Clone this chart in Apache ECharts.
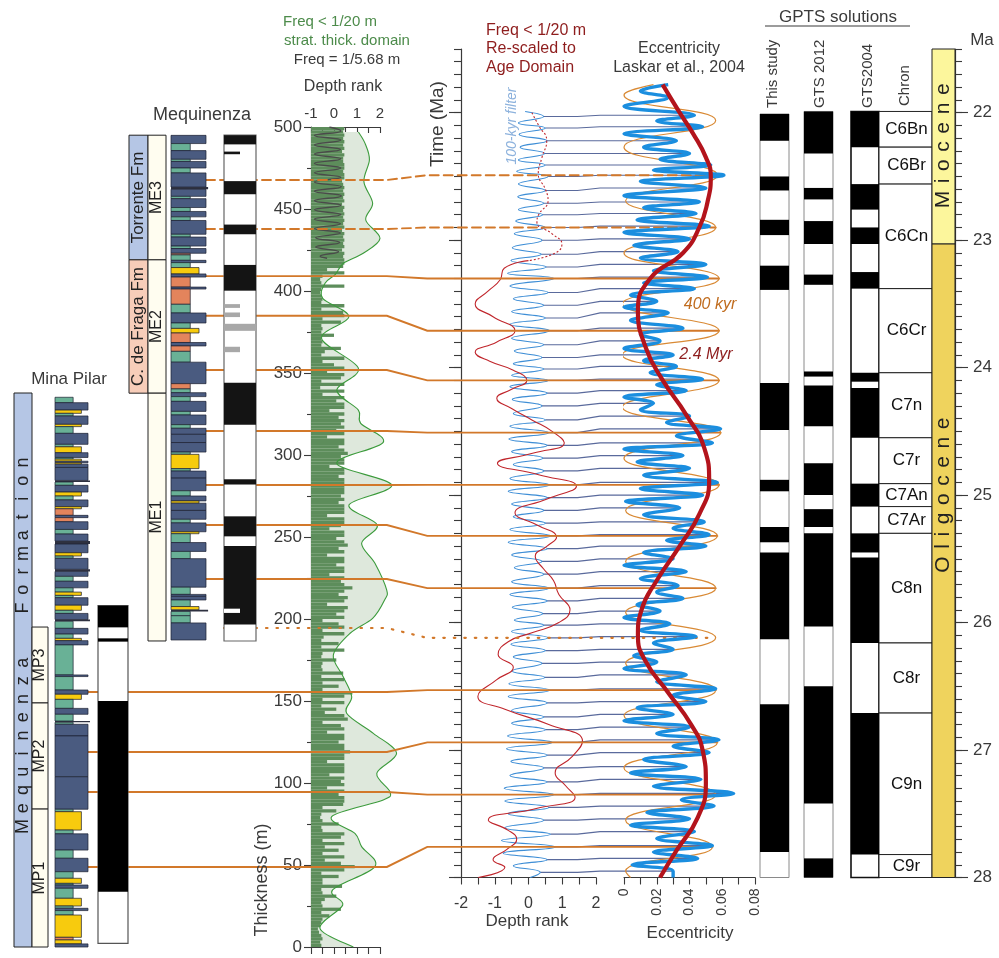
<!DOCTYPE html>
<html>
<head>
<meta charset="utf-8">
<script src="https://cdn.jsdelivr.net/npm/echarts@6/dist/echarts.min.js"></script>
<style>
  html, body { margin: 0; padding: 0; background: #fff; }
  #chart { width: 999px; height: 958px; }
</style>
</head>
<body>
<div id="chart"></div>
<script>
// ---------------- Mina Pilar section (thickness in m) ----------------
// lithology: [top, bottom, type]  type 0 limestone, 1 mudstone, 2 sandstone, 3 red mudstone, 4 dark lamina
const mpLithology = [
  [335.2,331.9,1],[331.9,327.4,0],[327.4,325.4,2],[325.4,323.8,1],[323.8,318.7,0],[318.7,317.3,2],[317.3,313.2,1],
  [313.2,306.5,0],[306.5,305,1],[305,301.4,2],[301.4,298.5,0],[298.5,297.5,1],[297.5,296.2,2],[296.2,295.3,0],
  [295.3,294.4,2],[294.4,292.4,0],[292.4,284.5,0],[284.5,283.5,4],[283.5,281.5,1],[281.5,277.4,0],[277.4,275,2],
  [275,272.6,1],[272.6,268.5,0],[268.5,267.2,2],[267.2,263.2,3],[263.2,261.8,0],[261.8,259.3,3],[259.3,254.6,0],
  [254.6,251.8,1],[251.8,247.5,0],[247.5,245.7,4],[245.7,240.4,0],[240.4,238.4,2],[238.4,237,1],[237,230.3,0],
  [230.3,229,4],[229,226,0],[226,223,1],[223,219,0],[219,216.4,1],[216.4,214.4,2],[214.4,213,1],[213,208.4,0],
  [208.4,205.3,2],[205.3,203.4,1],[203.4,199.7,0],[199.7,198.6,4],[198.6,194.3,1],[194.3,190.8,0],[190.8,188.2,1],
  [188.2,186.8,2],[186.8,184.2,0],[184.2,165.9,1],[165.9,164.9,0],[164.9,156.7,1],[156.7,154.1,0],[154.1,151,2],
  [151,145.5,1],[145.5,141.9,0],[141.9,137.8,1],[137.8,137.0,4],[137,135.8,1],[135.8,128.7,0],[128.7,103.8,0],
  [103.8,84,0],[84,82.5,1],[82.5,71.3,2],[71.3,69,1],[69,59.1,0],[59.1,54.1,1],[54.1,45.9,0],[45.9,41.9,1],
  [41.9,38.8,2],[38.8,37.8,1],[37.8,35.8,0],[35.8,29.7,1],[29.7,25,2],[25,23.6,1],[23.6,22.2,0],[22.2,19.5,1],
  [19.5,5.9,2],[5.9,4.3,3],[4.3,1.9,2],[1.9,0,0]
];
const mpPolaritySpan = [[208.1, 2.2]];
const mpPolarityNormal = [[208.1,194.9],[188.2,186.2],[150,33.7]];
const mpUnits = [[195.1,148.8],[148.8,84.1],[84.1,0]];
const mpUnitNames = ['MP3','MP2','MP1'];
const mpFormation = [[337.8, 0]];
const mpFormationNames = ['Mequinenza  Formation'];

// ---------------- Mequinenza section ----------------
const meqLithology = [
  [494.9,489.9,0],[489.9,485.6,1],[485.6,480.3,0],[480.3,479,1],[479,475,0],[475,472,1],[472,463.4,0],[463.4,462,4],
  [462,457.7,0],[457.7,456.3,1],[456.3,450.9,0],[450.9,448.5,1],[448.5,445.2,0],[445.2,443,1],[443,434.6,0],
  [434.6,432.9,1],[432.9,427.4,0],[427.4,425.9,1],[425.9,423,0],[423,422,3],[422,418.7,1],[418.7,417.3,0],
  [417.3,414.3,1],[414.3,410.4,2],[410.4,408.5,0],[408.5,402.4,3],[402.4,401.2,0],[401.2,391.9,3],[391.9,386.6,1],
  [386.6,380.5,0],[380.5,377.2,1],[377.2,374.4,2],[374.4,368.6,3],[368.6,366.5,0],[366.5,363.2,3],[363.2,356.6,1],
  [356.6,343.5,0],[343.5,340.3,3],[340.3,338,1],[338,335.6,0],[335.6,332.7,1],[332.7,326.6,0],[326.6,324.4,1],
  [324.4,318.5,0],[318.5,316.3,1],[316.3,312.6,0],[312.6,307.6,0],[307.6,301.8,0],[301.8,300.4,1],[300.4,291.7,2],
  [291.7,290.2,1],[290.2,285.9,0],[285.9,278.2,0],[278.2,275,1],[275,272,0],[272,270.6,2],[270.6,266.2,0],
  [266.2,260.8,0],[260.8,258.6,1],[258.6,253.2,0],[253.2,252,2],[252,246.6,1],[246.6,241.2,0],[241.2,236.8,1],
  [236.8,219.4,0],[219.4,215,1],[215,213.8,0],[213.8,211.6,0],[211.6,207.6,1],[207.6,205.6,2],[205.6,204.6,4],
  [204.6,202,1],[202,197.6,1],[197.6,187.2,0]
];
const meqPolaritySpan = [[495, 186.6]];
const meqPolarityNormal = [[495,489.4],[467,459],[440.5,434.6],[415.9,400.2],[344,318.5],[285.2,282],[262.6,250.4],[244.5,196.6]];
const meqPolarityNormalThin = [[485,483.4]];
const meqPolarityUncertain = [[380,375.7]];
const meqPolarityUncertainThin = [[392,389.7],[386.9,384.1],[366,362.7]];
const meqPolarityGapThin = [[206.3,203.7]];
const meqFormations = [[495,419],[419,337.7]];
const meqFormationNames = ['Torrente Fm','C. de Fraga Fm'];
const meqUnits = [[495,419],[419,337.7],[337.7,186.6]];
const meqUnitNames = ['ME3','ME2','ME1'];

// ---------------- Depth rank in the thickness domain ----------------
// raw depth rank, one value per 2 m bin starting at 0 m
const rankRawStart = 0, rankRawStep = 2;
const rankRaw = [
  -0.55,-0.6,-0.5,-0.55,-0.65,  -0.7,-0.6,-0.55,-0.5,-0.2,  -0.55,0.3,-0.5,-0.55,-0.4,  0.1,-0.5,-0.55,0.35,-0.5,
  -0.5,0.2,-0.55,0.45,0.9,  0.3,-0.4,0.45,-0.5,0.2,  -0.4,0.45,-0.5,0.3,0.45,  -0.5,-0.55,0.2,-0.5,-0.6,
  -0.55,0.1,-0.5,0.4,0.45,  0.45,0.2,0.45,-0.3,0.45,  0.3,0.45,-0.2,0.45,0.45,  0.45,-0.3,0.45,0.45,0.7,
  0.45,0.45,0.2,0.45,0.45,  -0.3,0.45,0.3,-0.5,0.6,  0.45,-0.4,0.1,-0.55,0.45,  -0.5,0.45,0.8,-0.5,0.2,
  -0.5,0.45,-0.55,0.4,-0.5,  -0.55,-0.5,0.1,-0.55,-0.5,  0.45,-0.55,0.2,-0.55,-0.45,  0.45,-0.5,0.45,0.2,-0.5,
  0.45,0.1,0.45,0.6,-0.3,  0.45,0.6,0.2,0.45,0.8,  0.45,0.3,0.45,-0.2,0.45,  0.45,0.1,0.45,0.45,-0.3,
  0.45,0.2,0.6,0.45,0.1,  0.45,0.45,-0.2,0.3,0.45,  0.45,-0.3,0.45,0.45,0.45,  0.2,0.45,0.3,0.45,0.45,
  0.45,0.45,0.45,0.2,0.45,  0.45,-0.2,0.45,0.45,0.3,  0.6,0.45,0.2,0.45,0.45,  -0.3,0.45,0.1,0.45,0.3,
  0.45,0.2,0.45,-0.2,0.45,  0.45,0.1,0.45,-0.5,0.45,  -0.6,0.45,-0.55,0.3,0.45,  -0.3,0.45,0.0,-0.5,0.45,
  -0.55,-0.4,0.3,-0.55,-0.5,  -0.55,0.0,-0.55,-0.5,-0.55,  0.3,-0.5,0.45,0.4,-0.55,  0.45,-0.55,-0.5,-0.55,-0.6,
  -0.55,0.45,-0.55,-0.6,-0.5,  0.45,-0.3,0.4,0.45,0.45,  0.4,0.45,0.35,0.45,0.4,  0.45,0.4,0.45,0.35,0.45,
  0.4,0.45,0.4,0.45,0.4,  0.45,0.35,0.45,0.4,0.45,  0.4,0.45,0.4,0.35,0.45,  0.45,0.4,0.45,0.45,0.4,
  0.4,0.45,0.35,0.45,0.4,  0.45,0.4,0.45,0.4,0.45
];
// low-pass (< 1/20 m) filtered depth rank: [thickness m, rank]
const strat20m = [
  [497,1.06],[490,1.35],[480,1.54],[466.7,1.30],[453.5,1.68],[443.3,1.38],[432.1,2.00],[423,1.27],[416.9,0.41],
  [410,0.05],[404.7,-0.39],[395.5,-0.49],[384.3,0.65],[371.1,-0.54],[352.9,1.06],[339.6,0.12],[327.4,1.06],
  [319.3,1.16],[307.7,2.14],[294.9,0.12],[281.7,2.51],[269.5,0.65],[257.3,1.88],[246.2,1.20],[234,1.78],
  [217.7,2.29],[211.6,2.20],[200.4,1.68],[191.3,0.70],[178,-0.03],[164.8,0.40],[152.6,0.77],[142.5,0.55],
  [130.3,1.71],[118.1,2.72],[105.9,1.86],[94.7,2.43],[89.6,2.14],[79.5,-0.10],[69.3,0.91],[61.2,1.20],
  [49,1.78],[34.8,-0.06],[25.6,0.38],[11.4,-0.61],[0,0.84]
];
// 5.68 m cycle: [thickness m, rank]
const cycle568 = [
  [500,-0.2],[497.6,0.3],[494.8,-0.85],[492.0,0.3],[489.1,-0.85],[486.3,0.28],[483.5,-0.85],[480.6,0.3],
  [477.8,-0.85],[475.0,0.3],[472.1,-0.85],[469.3,0.3],[466.5,-0.85],[463.6,0.32],[460.8,-0.85],[458.0,0.32],
  [455.1,-0.85],[452.3,0.3],[449.5,-0.85],[446.6,0.3],[443.8,-0.85],[441.0,0.28],[438.1,-0.85],[435.3,0.28],
  [432.5,-0.8],[429.6,0.25],[426.8,-0.8],[424.0,0.2],[421.2,-0.6],[420.0,-0.3]
];

// ---------------- Age domain ----------------
// 100-kyr filter of the depth rank: peaks and troughs [Ma, rank]
const filterPeaks = [
  [22.03,0.45],[22.12,0.50],[22.22,0.55],[22.32,0.48],[22.41,0.50],[22.50,0.58],[22.61,0.50],[22.71,0.45],[22.80,0.42],[22.90,0.50],
  [23.00,0.40],[23.11,0.38],[23.21,0.52],[23.30,0.75],[23.41,0.58],[23.51,0.45],[23.61,0.50],[23.71,0.62],[23.82,0.45],[23.92,0.40],
  [24.01,0.45],[24.10,0.58],[24.20,0.55],[24.30,0.40],[24.41,0.50],[24.51,0.60],[24.61,0.55],[24.71,0.42],[24.81,0.45],[24.92,0.62],
  [25.02,0.55],[25.12,0.45],[25.22,0.50],[25.32,0.65],[25.42,0.55],[25.52,0.40],[25.62,0.45],[25.73,0.60],[25.83,0.55],[25.93,0.42],
  [26.02,0.45],[26.12,0.58],[26.22,0.50],[26.32,0.40],[26.43,0.48],[26.53,0.62],[26.63,0.55],[26.74,0.45],[26.84,0.50],[26.94,0.70],
  [27.04,0.55],[27.14,0.45],[27.25,0.55],[27.35,0.75],[27.45,0.60],[27.55,0.45],[27.66,0.65],[27.76,0.80],[27.86,0.55],[27.96,0.35]
];
const filterTroughs = [
  [21.99,-0.10],[22.08,-0.30],[22.17,-0.28],[22.27,-0.25],[22.37,-0.30],[22.46,-0.35],[22.56,-0.30],[22.66,-0.32],[22.76,-0.30],[22.85,-0.38],
  [22.95,-0.42],[23.06,-0.48],[23.16,-0.52],[23.26,-0.62],[23.36,-0.55],[23.46,-0.45],[23.56,-0.50],[23.66,-0.55],[23.77,-0.50],[23.87,-0.42],
  [23.97,-0.45],[24.06,-0.50],[24.15,-0.55],[24.25,-0.48],[24.36,-0.45],[24.46,-0.55],[24.56,-0.58],[24.66,-0.50],[24.76,-0.45],[24.87,-0.55],
  [24.97,-0.60],[25.07,-0.50],[25.17,-0.45],[25.27,-0.55],[25.37,-0.60],[25.47,-0.50],[25.57,-0.42],[25.68,-0.50],[25.78,-0.55],[25.88,-0.48],
  [25.98,-0.42],[26.07,-0.50],[26.17,-0.52],[26.27,-0.45],[26.38,-0.48],[26.48,-0.58],[26.58,-0.60],[26.69,-0.50],[26.79,-0.50],[26.89,-0.62],
  [26.99,-0.65],[27.09,-0.52],[27.20,-0.55],[27.30,-0.72],[27.40,-0.70],[27.50,-0.60],[27.61,-0.70],[27.71,-0.80],[27.81,-0.75],[27.91,-0.45],[28.00,0.05]
];
// < 1/20 m filter re-scaled to age: [Ma, rank]; dashed above 23.16 Ma
const redFilterAge = [
  [22.00,0.10],[22.10,0.30],[22.22,0.54],[22.35,0.40],[22.48,0.29],[22.60,0.50],[22.69,0.58],[22.80,0.30],[22.86,0.25],[22.95,0.70],
  [23.03,0.99],[23.10,0.80],[23.16,0.00],[23.22,-0.72],[23.31,-0.84],[23.40,-1.20],[23.50,-1.58],[23.60,-1.05],[23.71,-0.40],[23.80,-0.95],
  [23.88,-1.58],[23.95,-1.15],[24.02,-0.45],[24.10,-0.05],[24.17,-0.50],[24.24,-0.94],[24.32,-0.50],[24.41,0.10],[24.50,0.70],[24.59,1.06],
  [24.67,0.15],[24.75,-0.92],[24.84,0.30],[24.93,1.42],[25.03,0.55],[25.14,-0.40],[25.24,0.30],[25.33,0.83],[25.40,0.55],[25.48,0.20],
  [25.58,0.45],[25.67,0.74],[25.78,0.90],[25.90,1.23],[26.00,0.90],[26.08,0.10],[26.15,-0.60],[26.25,-0.90],[26.35,-0.45],[26.45,-0.95],
  [26.58,-1.50],[26.68,-0.70],[26.80,0.60],[26.93,1.60],[27.05,1.30],[27.18,0.79],[27.28,1.10],[27.37,1.38],[27.46,0.20],[27.55,-1.19],
  [27.63,-0.60],[27.70,-0.35],[27.78,-0.64],[27.86,-1.05],[27.92,-0.70],[28.00,-1.49]
];
const redDashedUntil = 23.16;

// Laskar et al. (2004) eccentricity: peaks tied to the 100-kyr filter, plus the other extremes [Ma, ecc]
const eccPeaks = [
  [22.02,.043],[22.11,.048],[22.22,.032],[22.32,.040],[22.41,.053],[22.49,.061],[22.59,.050],[22.70,.046],[22.79,.044],[22.89,.052],
  [22.99,.040],[23.09,.033],[23.19,.050],[23.29,.051],[23.38,.043],[23.48,.020],[23.57,.027],[23.69,.036],[23.79,.022],[23.90,.030],
  [23.99,.032],[24.09,.048],[24.18,.038],[24.28,.018],[24.38,.040],[24.48,.059],[24.59,.054],[24.69,.036],[24.79,.040],[24.90,.057],
  [25.00,.048],[25.10,.034],[25.21,.049],[25.31,.052],[25.40,.050],[25.50,.030],[25.60,.038],[25.71,.033],[25.81,.036],[25.91,.022],
  [26.01,.028],[26.11,.044],[26.21,.030],[26.31,.020],[26.41,.038],[26.52,.056],[26.62,.050],[26.72,.030],[26.82,.040],[26.92,.058],
  [27.02,.052],[27.13,.038],[27.23,.047],[27.34,.067],[27.44,.055],[27.54,.040],[27.64,.043],[27.75,.054],[27.85,.045],[27.95,.030]
];
const eccOther = [
  [21.78,.027],[21.83,.010],[21.88,.027],[21.95,.000],
  [22.065,.020],[22.165,.000],[22.27,.012],[22.365,.022],[22.45,.018],[22.54,.010],[22.65,.000],[22.745,.012],[22.84,.008],[22.94,.000],
  [23.04,.006],[23.14,.010],[23.24,.018],[23.335,.012],[23.43,.004],[23.525,.000],[23.63,.004],[23.74,.010],[23.85,.000],[23.945,.012],
  [24.04,.016],[24.135,.020],[24.23,.000],[24.33,.010],[24.43,.026],[24.535,.032],[24.64,.000],[24.74,.008],[24.845,.012],[24.95,.010],
  [25.05,.001],[25.155,.012],[25.26,.030],[25.355,.026],[25.45,.012],[25.55,.000],[25.655,.010],[25.76,.020],[25.86,.008],[25.96,.000],
  [26.06,.010],[26.16,.018],[26.26,.006],[26.36,.000],[26.465,.020],[26.57,.030],[26.67,.008],[26.77,.000],[26.87,.020],[26.97,.030],
  [27.075,.012],[27.18,.004],[27.285,.018],[27.39,.035],[27.49,.014],[27.59,.004],[27.695,.020],[27.80,.018],[27.90,.005],[28.00,.030]
];
// 400-kyr eccentricity component [Ma, ecc]
const ecc400 = [
  [21.78,0.018],[21.86,0.0],[22.06,0.056],[22.27,0.0],[22.49,0.057],[22.69,0.001],[22.90,0.056],[23.10,0.0],[23.30,0.058],
  [23.50,-0.001],[23.71,0.058],[23.90,-0.001],[24.10,0.058],[24.31,-0.001],[24.51,0.059],[24.71,0.0],[24.92,0.058],[25.12,0.001],
  [25.32,0.057],[25.52,0.001],[25.73,0.056],[25.92,0.001],[26.12,0.056],[26.32,0.001],[26.53,0.056],[26.73,0.0],[26.94,0.057],
  [27.14,0.0],[27.35,0.056],[27.55,0.001],[27.76,0.054],[27.95,0.001],[28.0,0.004]
];
// 2.4-Myr eccentricity component [Ma, ecc]
const ecc2400 = [
  [21.78,.0236],[22.00,.034],[22.16,.042],[22.35,.050],[22.50,.053],[22.70,.051],[22.90,.046],[23.10,.036],[23.30,.016],
  [23.55,.0085],[23.85,.0135],[24.10,.0237],[24.37,.038],[24.63,.049],[24.89,.052],[25.15,.046],[25.40,.034],[25.67,.020],
  [25.90,.0107],[26.10,.0085],[26.30,.013],[26.55,.027],[26.80,.041],[27.00,.048],[27.26,.050],[27.53,.045],[27.79,.032],[28.00,.022]
];

// Tie points between the composite section (m) and the 400-kyr maxima (Ma)
const tieThickness = [467.7,437.8,409.1,384.9,351.8,314.6,281.7,257.3,224.4,194.5,155.5,118.9,94.5,48.8];
const tieAge = [22.49,22.90,23.30,23.71,24.10,24.51,24.92,25.32,25.73,26.12,26.53,26.94,27.35,27.76];
const tieSection = ['meq','meq','meq','meq','meq','meq','meq','meq','meq','base','mp','mp','mp','mp'];
const tieKind = ['dashed','dashed','solid','solid','solid','solid','solid','solid','solid','dotted','solid','solid','solid','solid'];

// ---------------- GPTS (Ma) ----------------
const thisStudySpan = [[22.01, 28.0]];
const thisStudyNormal = [[22.01,22.22],[22.50,22.61],[22.84,22.96],[23.20,23.39],[24.12,24.49],[24.88,24.97],[25.25,25.37],[25.45,26.13],[26.64,27.80]];
const gts2012Span = [[21.99, 28.0]];
const gts2012Normal = [[21.99,22.32],[22.59,22.68],[22.85,23.03],[23.27,23.35],[24.03,24.07],[24.14,24.46],[24.75,25.0],[25.11,25.25],[25.30,26.03],[26.50,27.42],[27.85,28.0]];
const gts2004Span = [[21.99, 28.0]];
const gts2004Normal = [[21.99,22.27],[22.56,22.76],[22.90,23.03],[23.25,23.38],[24.04,24.11],[24.16,24.55],[24.91,25.09],[25.30,25.45],[25.49,26.16],[26.71,27.82]];
const chronNames = ['C6Bn','C6Br','C6Cn','C6Cr','C7n','C7r','C7An','C7Ar','C8n','C8r','C9n','C9r'];
const chronSpans = [[21.99,22.27],[22.27,22.56],[22.56,23.38],[23.38,24.04],[24.04,24.55],[24.55,24.91],[24.91,25.09],[25.09,25.30],[25.30,26.16],[26.16,26.71],[26.71,27.82],[27.82,28.0]];
const epochNames = ['M\u200a i\u200a o\u200a c\u200a e\u200a n\u200a e', 'O\u200a l\u200a i\u200a g\u200a o\u200a c\u200a e\u200a n\u200a e'];
const epochSpans = [[21.5,23.03],[23.03,28.0]];

// axis tick labels
const thicknessLabelStep = 50;
const depthRankLabels = [-1, 0, 1, 2];
const ageRankLabels = [-2, -1, 0, 1, 2];
const eccLabels = [0, 0.02, 0.04, 0.06, 0.08];
const ageLabels = [22, 23, 24, 25, 26, 27, 28];

// ====================================================================
const FONT = '"Liberation Sans", Arial, Helvetica, sans-serif';
const INK = '#3a3a3a';
const SEC_TOP = 127, SEC_H = 820;     // 500 m .. 0 m
const AGE_TOP = 49, AGE_H = 828.5;    // 21.5 Ma .. 28 Ma
const AGE_MIN = 21.5, AGE_MAX = 28;

const ageMinorTicks = [];
for (let k = 215; k <= 280; k++) ageMinorTicks.push(k / 10);

const chart = echarts.init(document.getElementById('chart'), null, { renderer: 'canvas' });

const grids = [], xAxes = [], yAxes = [];
function hidden(min, max, inverse) {
  return { type: 'value', min, max, inverse: !!inverse, show: false, splitLine: { show: false } };
}
function addGrid(left, width, kind) {
  const gi = grids.length, sec = kind === 'section';
  grids.push({ left, width, top: sec ? SEC_TOP : AGE_TOP, height: sec ? SEC_H : AGE_H });
  xAxes.push(Object.assign(hidden(0, 1), { gridIndex: gi }));
  yAxes.push(Object.assign(sec ? hidden(0, 500) : hidden(AGE_MIN, AGE_MAX, true), { gridIndex: gi }));
  return gi;
}
const G = {};
G.depth = addGrid(311, 69, 'section');
G.mpForm = addGrid(14, 18, 'section');
G.mpUnit = addGrid(32, 16, 'section');
G.mpLith = addGrid(55, 33, 'section');
G.mpPol = addGrid(98, 30, 'section');
G.meqForm = addGrid(129, 19, 'section');
G.meqUnit = addGrid(148, 18, 'section');
G.meqLith = addGrid(171, 35, 'section');
G.meqPol = addGrid(224, 32, 'section');
G.mid = addGrid(461, 135, 'age');
G.ecc = addGrid(624, 131, 'age');
G.gThis = addGrid(760, 29, 'age');
G.g2012 = addGrid(804, 29, 'age');
G.g2004 = addGrid(851, 28, 'age');
G.chron = addGrid(879, 53, 'age');
G.epoch = addGrid(932, 23, 'age');

const axLine = { show: true, onZero: false, lineStyle: { color: INK, width: 1.2 } };
const noLine = { show: false, onZero: false };
const tickStyle = { color: INK, width: 1.1 };
const lbl = (extra) => Object.assign({ color: INK, fontFamily: FONT, fontSize: 15 }, extra || {});

// depth rank (thickness domain)
xAxes[G.depth] = {
  gridIndex: G.depth, type: 'value', min: -1, max: 2, interval: 0.5, position: 'top',
  axisLine: axLine, axisTick: { show: true, inside: true, length: 6, lineStyle: tickStyle },
  axisLabel: lbl({ customValues: depthRankLabels, margin: 6 }), splitLine: { show: false }
};
xAxes.push({
  gridIndex: G.depth, type: 'value', min: -1, max: 2, interval: 0.5, position: 'bottom',
  axisLine: axLine, axisTick: { show: true, length: 7, lineStyle: tickStyle },
  axisLabel: { show: false }, splitLine: { show: false }
});
yAxes[G.depth] = {
  gridIndex: G.depth, type: 'value', min: 0, max: 500, interval: thicknessLabelStep, position: 'left',
  axisLine: axLine, axisTick: { show: true, length: 7, lineStyle: tickStyle },
  minorTick: { show: true, splitNumber: 2, length: 4, lineStyle: tickStyle },
  axisLabel: lbl({ fontSize: 17, margin: 9 }), splitLine: { show: false }, minorSplitLine: { show: false }
};
// age domain, left panel
xAxes[G.mid] = {
  gridIndex: G.mid, type: 'value', min: -2, max: 2, interval: 0.5, position: 'bottom',
  axisLine: axLine, axisTick: { show: true, length: 7, lineStyle: tickStyle },
  axisLabel: lbl({ customValues: ageRankLabels, fontSize: 16, margin: 18 }), splitLine: { show: false }
};
yAxes[G.mid] = {
  gridIndex: G.mid, type: 'value', min: AGE_MIN, max: AGE_MAX, inverse: true, position: 'left',
  axisLine: axLine, axisTick: { show: true, length: 7, customValues: ageMinorTicks, lineStyle: tickStyle },
  axisLabel: { show: false }, splitLine: { show: false }
};
yAxes.push({
  gridIndex: G.mid, type: 'value', min: AGE_MIN, max: AGE_MAX, inverse: true, position: 'left',
  axisLine: noLine, axisTick: { show: true, length: 12, customValues: ageLabels, lineStyle: tickStyle },
  axisLabel: { show: false }, splitLine: { show: false }
});
// eccentricity
xAxes[G.ecc] = {
  gridIndex: G.ecc, type: 'value', min: 0, max: 0.08, interval: 0.01, position: 'bottom',
  axisLine: axLine, axisTick: { show: true, length: 7, lineStyle: tickStyle },
  axisLabel: lbl({ customValues: eccLabels, rotate: 90, fontSize: 14, margin: 11 }), splitLine: { show: false }
};
// Ma scale right of the epoch bar
yAxes[G.epoch] = {
  gridIndex: G.epoch, type: 'value', min: AGE_MIN, max: AGE_MAX, inverse: true, position: 'right',
  axisLine: axLine, axisTick: { show: true, length: 7, customValues: ageMinorTicks, lineStyle: tickStyle },
  axisLabel: { show: false }, splitLine: { show: false }
};
yAxes.push({
  gridIndex: G.epoch, type: 'value', min: AGE_MIN, max: AGE_MAX, inverse: true, position: 'right',
  axisLine: noLine, axisTick: { show: true, length: 13, customValues: ageLabels, lineStyle: tickStyle },
  axisLabel: lbl({ customValues: ageLabels, fontSize: 17, margin: 18 }), splitLine: { show: false }
});

// ---------------- render helpers ----------------
function px(axis, gi, v) {
  return chart.convertToPixel(axis === 'x' ? { xAxisIndex: gi } : { yAxisIndex: gi }, v);
}
function rectFrom(a, b) {
  return { x: Math.min(a[0], b[0]), y: Math.min(a[1], b[1]), width: Math.abs(b[0] - a[0]), height: Math.abs(b[1] - a[1]) };
}
function bands(gi, items, x0, x1, style, z) {
  return {
    type: 'custom', xAxisIndex: gi, yAxisIndex: gi, z, silent: true, data: items,
    renderItem: (params, api) => {
      const a = api.coord([x0, api.value(0)]), b = api.coord([x1, api.value(1)]);
      return { type: 'rect', shape: rectFrom(a, b), style: Object.assign({}, style) };
    }
  };
}
// letters set one by one, bottom to top, centred on (cx, cy)
function spacedLetters(text, cx, cy, step, font) {
  const chars = text.split(''), n = chars.length, out = [];
  chars.forEach((ch, k) => {
    if (ch === ' ') return;
    out.push({ type: 'text', x: cx, y: cy + ((n - 1) / 2 - k) * step, rotation: Math.PI / 2,
      style: { text: ch, font, fill: '#222', align: 'center', verticalAlign: 'middle' } });
  });
  return out;
}
function labelledBoxes(gi, items, names, fills, font, z, labelAt, letterStep) {
  return {
    type: 'custom', xAxisIndex: gi, yAxisIndex: gi, z, silent: true, data: items,
    renderItem: (params, api) => {
      const i = params.dataIndex;
      const a = api.coord([0, api.value(0)]), b = api.coord([1, api.value(1)]);
      const ty = labelAt && labelAt[i] != null ? api.coord([0, labelAt[i]])[1] : (a[1] + b[1]) / 2;
      const cx = (a[0] + b[0]) / 2;
      const label = letterStep
        ? spacedLetters(names[i], cx, ty, letterStep, font)
        : [{ type: 'text', x: cx, y: ty, rotation: Math.PI / 2,
             style: { text: names[i], font, fill: '#222', align: 'center', verticalAlign: 'middle' } }];
      return {
        type: 'group', children: [
          { type: 'rect', shape: rectFrom(a, b), style: { fill: fills[i % fills.length], stroke: '#222', lineWidth: 1 } }
        ].concat(label)
      };
    }
  };
}
const lithWidth = [1.0, 0.55, 0.8, 0.55, 1.06];
const lithFill = ['#4A5B80', '#69B196', '#F7CB0E', '#E3845C', '#2E3140'];
function lithologySeries(gi, items) {
  return {
    type: 'custom', xAxisIndex: gi, yAxisIndex: gi, z: 6, silent: true, data: items,
    renderItem: (params, api) => {
      const code = api.value(2);
      const a = api.coord([0, api.value(0)]), b = api.coord([lithWidth[code], api.value(1)]);
      return { type: 'rect', shape: rectFrom(a, b),
        style: { fill: lithFill[code], stroke: code === 4 ? null : '#1b2030', lineWidth: 0.7 } };
    }
  };
}
function smoothPathD(pts) {
  let d = 'M' + pts[0][0] + ',' + pts[0][1];
  for (let i = 0; i < pts.length - 1; i++) {
    const p0 = pts[i - 1] || pts[i], p1 = pts[i], p2 = pts[i + 1], p3 = pts[i + 2] || p2;
    const c1 = [p1[0] + (p2[0] - p0[0]) / 6, p1[1] + (p2[1] - p0[1]) / 6];
    const c2 = [p2[0] - (p3[0] - p1[0]) / 6, p2[1] - (p3[1] - p1[1]) / 6];
    d += ' C' + c1[0] + ',' + c1[1] + ' ' + c2[0] + ',' + c2[1] + ' ' + p2[0] + ',' + p2[1];
  }
  return d;
}
function nearest(list, age) {
  let best = list[0];
  list.forEach(p => { if (Math.abs(p[0] - age) < Math.abs(best[0] - age)) best = p; });
  return best;
}
const byAge = (a, b) => a[0] - b[0];
const asXY = list => list.map(p => [p[1], p[0]]);

const filterCurve = filterPeaks.concat(filterTroughs).sort(byAge);
const eccCurve = eccPeaks.concat(eccOther).sort(byAge);
const redDashed = redFilterAge.filter(p => p[0] <= redDashedUntil);
const redSolid = redFilterAge.filter(p => p[0] >= redDashedUntil);

const line = (gi, data, color, width, z, extra) => Object.assign({
  type: 'line', xAxisIndex: gi, yAxisIndex: gi, data, smooth: 0.5, symbol: 'none', silent: true, z,
  lineStyle: { color, width }, animation: false
}, extra || {});

const series = [
  // ---- Mina Pilar
  labelledBoxes(G.mpForm, mpFormation, mpFormationNames, ['#B5C6E5'], '18px ' + FONT, 6, [184.5], 18.2),
  labelledBoxes(G.mpUnit, mpUnits, mpUnitNames, ['#FFFDF0'], '16px ' + FONT, 6),
  lithologySeries(G.mpLith, mpLithology),
  bands(G.mpPol, mpPolaritySpan, 0, 1, { fill: '#fff', stroke: '#555', lineWidth: 1.2 }, 6),
  bands(G.mpPol, mpPolarityNormal, 0, 1, { fill: '#000' }, 7),
  // ---- Mequinenza
  labelledBoxes(G.meqForm, meqFormations, meqFormationNames, ['#B5C6E5', '#F7CDB9'], '17px ' + FONT, 6),
  labelledBoxes(G.meqUnit, meqUnits, meqUnitNames, ['#FFFDF0'], '16px ' + FONT, 6),
  lithologySeries(G.meqLith, meqLithology),
  bands(G.meqPol, meqPolaritySpan, 0, 1, { fill: '#fff', stroke: '#666', lineWidth: 1.2 }, 6),
  bands(G.meqPol, meqPolarityNormal, 0, 1, { fill: '#141414' }, 7),
  bands(G.meqPol, meqPolarityNormalThin, 0, 0.5, { fill: '#141414' }, 7),
  bands(G.meqPol, meqPolarityUncertain, 0, 1, { fill: '#A8A8A8' }, 7),
  bands(G.meqPol, meqPolarityUncertainThin, 0, 0.5, { fill: '#A8A8A8' }, 7),
  bands(G.meqPol, meqPolarityGapThin, 0, 0.5, { fill: '#fff' }, 8),
  // ---- depth rank (thickness domain)
  {
    type: 'custom', xAxisIndex: G.depth, yAxisIndex: G.depth, z: 1, silent: true, data: [[0, 250]],
    renderItem: (params, api) => {
      const pts = strat20m.map(p => api.coord([p[1], p[0]]));
      const top = api.coord([-1, strat20m[0][0]]), bot = api.coord([-1, strat20m[strat20m.length - 1][0]]);
      return { type: 'path', shape: { pathData: smoothPathD(pts) + ' L' + bot[0] + ',' + bot[1] + ' L' + top[0] + ',' + top[1] + ' Z' },
        style: { fill: '#DEE8DC', stroke: null } };
    }
  },
  {
    type: 'custom', xAxisIndex: G.depth, yAxisIndex: G.depth, z: 2, silent: true, data: rankRaw,
    renderItem: (params, api) => {
      const m0 = rankRawStart + params.dataIndex * rankRawStep;
      const a = api.coord([-1, m0]), b = api.coord([api.value(0), m0 + rankRawStep]);
      return { type: 'rect', shape: rectFrom(a, b), style: { fill: '#5D8D5B' } };
    }
  },
  {
    type: 'custom', xAxisIndex: G.depth, yAxisIndex: G.depth, z: 3, silent: true, data: [[0, 250]],
    renderItem: (params, api) => {
      const pts = strat20m.map(p => api.coord([p[1], p[0]]));
      return { type: 'path', shape: { pathData: smoothPathD(pts) }, style: { fill: 'none', stroke: '#3C9B3C', lineWidth: 1.1 } };
    }
  },
  line(G.depth, asXY(cycle568), '#4a4a4a', 1.4, 3),
  // ---- age domain
  line(G.mid, asXY(filterCurve), '#3E8ED6', 1.1, 3),
  line(G.mid, asXY(redDashed), '#C0262C', 1.1, 3, { lineStyle: { color: '#C0262C', width: 1.1, type: [2, 2] } }),
  line(G.mid, asXY(redSolid), '#C0262C', 1.1, 3),
  {
    // 100-kyr filter maxima tied to eccentricity maxima
    type: 'custom', xAxisIndex: G.mid, yAxisIndex: G.mid, z: 3, silent: true, data: asXY(filterPeaks),
    renderItem: (params, api) => {
      const f = filterPeaks[params.dataIndex], e = eccPeaks[params.dataIndex];
      const p0 = api.coord([f[1], f[0]]), p1 = api.coord([1.45, f[0]]), p2 = api.coord([2.12, e[0]]);
      const ex = px('x', G.ecc, e[1]);
      return { type: 'polyline', shape: { points: [p0, p1, p2, [ex, p2[1]]] },
        style: { stroke: '#5A6A9C', lineWidth: 1.1, fill: null } };
    }
  },
  line(G.ecc, asXY(ecc400), '#D98A35', 1.2, 4),
  line(G.ecc, asXY(eccCurve), '#1B8EDF', 3.4, 5, { smooth: 0.4 }),
  line(G.ecc, asXY(ecc2400), '#B3141C', 4.2, 6),
  {
    // section-to-age tie lines
    type: 'custom', xAxisIndex: G.mid, yAxisIndex: G.mid, z: 4, silent: true, data: tieAge.map(a => [0, a]),
    renderItem: (params, api) => {
      const i = params.dataIndex, sec = tieSection[i];
      const sx = sec === 'mp' ? px('x', G.mpLith, 1) : sec === 'base' ? px('x', G.meqPol, 0) : px('x', G.meqLith, 1);
      const y1 = px('y', G.depth, tieThickness[i]);
      const k1 = px('x', G.depth, 2.3), k2 = px('x', G.mid, -3.0);
      const y2 = api.coord([0, tieAge[i]])[1];
      const ex = px('x', G.ecc, nearest(ecc400, tieAge[i])[1]);
      const dash = tieKind[i] === 'dashed' ? [9, 5] : tieKind[i] === 'dotted' ? [1.5, 9] : null;
      return { type: 'polyline', shape: { points: [[sx, y1], [k1, y1], [k2, y2], [ex, y2]] },
        style: { stroke: '#D2782A', lineWidth: tieKind[i] === 'dotted' ? 2.2 : 1.9, fill: null, lineDash: dash, lineCap: 'round' } };
    }
  },
  // ---- GPTS columns
  bands(G.gThis, thisStudySpan, 0, 1, { fill: '#fff', stroke: '#8a8a8a', lineWidth: 1 }, 6),
  bands(G.gThis, thisStudyNormal, 0, 1, { fill: '#000' }, 7),
  bands(G.g2012, gts2012Span, 0, 1, { fill: '#fff', stroke: '#8a8a8a', lineWidth: 1 }, 6),
  bands(G.g2012, gts2012Normal, 0, 1, { fill: '#000' }, 7),
  bands(G.g2004, gts2004Span, 0, 1, { fill: '#fff', stroke: '#111', lineWidth: 1.6 }, 6),
  bands(G.g2004, gts2004Normal, 0, 1, { fill: '#000' }, 7),
  labelledBoxes(G.chron, chronSpans, chronNames, ['#fff'], '17px ' + FONT, 6),
  labelledBoxes(G.epoch, epochSpans, epochNames, ['#FCF69C', '#EFD35D'], '21px ' + FONT, 6, [22.26, 25.0])
];
// chron names read horizontally
series[series.length - 2].renderItem = (params, api) => {
  const a = api.coord([0, api.value(0)]), b = api.coord([1, api.value(1)]);
  return { type: 'group', children: [
    { type: 'rect', shape: rectFrom(a, b), style: { fill: '#fff', stroke: '#222', lineWidth: 1 } },
    { type: 'text', x: (a[0] + b[0]) / 2 + 1, y: (a[1] + b[1]) / 2,
      style: { text: chronNames[params.dataIndex], font: '17px ' + FONT, fill: '#111', align: 'center', verticalAlign: 'middle' } }
  ] };
};

function txt(text, x, y, opt) {
  opt = opt || {};
  return { type: 'text', x, y, rotation: opt.rot || 0, z: 100, silent: true,
    style: { text, fill: opt.color || INK, font: (opt.italic ? 'italic ' : '') + (opt.size || 15) + 'px ' + FONT,
      align: opt.align || 'center', verticalAlign: opt.valign || 'middle' } };
}
const R90 = Math.PI / 2;
const graphic = [
  txt('Mina Pilar', 69, 379, { size: 17 }),
  txt('Mequinenza', 202, 115, { size: 18 }),
  txt('Freq < 1/20 m', 330, 22, { color: '#4C8B4A', size: 15 }),
  txt('strat. thick. domain', 347, 41, { color: '#4C8B4A', size: 15 }),
  txt('Freq = 1/5.68 m', 347, 60, { size: 15 }),
  txt('Depth rank', 343, 87, { size: 16 }),
  txt('Thickness (m)', 262, 880, { size: 18, rot: R90 }),
  txt('Time (Ma)', 438, 124, { size: 19, rot: R90 }),
  txt('Freq < 1/20 m', 486, 31, { color: '#8E1D1D', size: 16, align: 'left' }),
  txt('Re-scaled to', 486, 49, { color: '#8E1D1D', size: 16, align: 'left' }),
  txt('Age Domain', 486, 68, { color: '#8E1D1D', size: 16, align: 'left' }),
  txt('Eccentricity', 679, 49, { size: 16 }),
  txt('Laskar et al., 2004', 679, 68, { size: 16 }),
  txt('100-kyr filter', 512, 126, { color: '#8DB2DD', size: 14, italic: true, rot: R90 }),
  txt('400 kyr', 710, 305, { color: '#C06C1E', size: 16, italic: true }),
  txt('2.4 Myr', 706, 355, { color: '#8E1D1D', size: 16, italic: true }),
  txt('Depth rank', 527, 921, { size: 17 }),
  txt('Eccentricity', 690, 933, { size: 17 }),
  txt('GPTS solutions', 838, 17, { size: 17 }),
  { type: 'line', z: 100, silent: true, shape: { x1: 765, y1: 26, x2: 910, y2: 26 }, style: { stroke: INK, lineWidth: 1.2 } },
  txt('This study', 773, 108, { size: 15, rot: R90, align: 'left' }),
  txt('GTS 2012', 820, 108, { size: 15, rot: R90, align: 'left' }),
  txt('GTS2004', 868, 108, { size: 15, rot: R90, align: 'left' }),
  txt('Chron', 905, 106, { size: 15, rot: R90, align: 'left' }),
  txt('Ma', 982, 40, { size: 17 })
];

chart.setOption({
  animation: false,
  textStyle: { fontFamily: FONT },
  grid: grids,
  xAxis: xAxes,
  yAxis: yAxes,
  series: series,
  graphic: graphic
});
</script>
</body>
</html>
